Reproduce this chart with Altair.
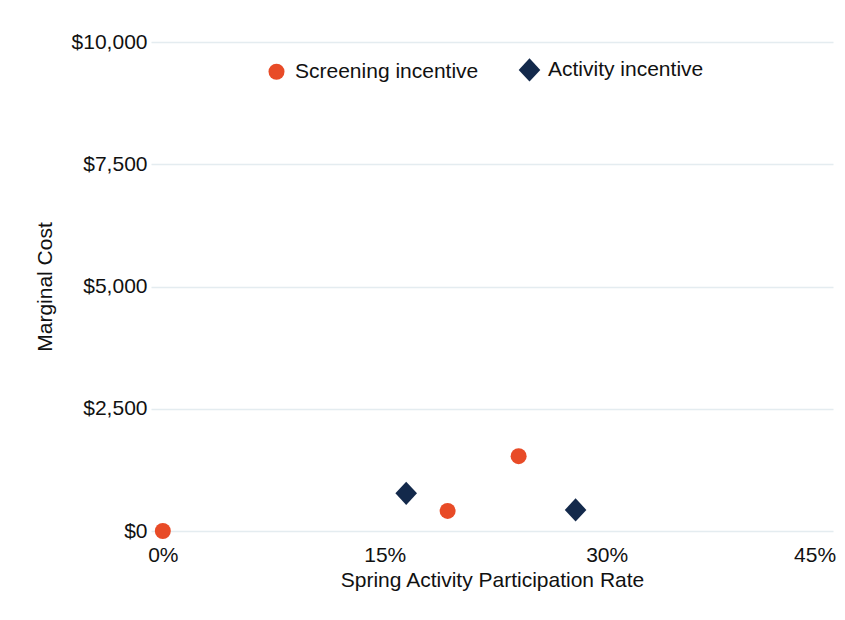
import altair as alt
import pandas as pd

series = ["Screening incentive", "Screening incentive", "Screening incentive",
          "Activity incentive", "Activity incentive"]
rate = [0.0, 0.1925, 0.2405, 0.1645, 0.279]
cost = [0, 410, 1530, 770, 430]

x_ticks = [0.0, 0.15, 0.30, 0.45]
y_ticks = [0, 2500, 5000, 7500, 10000]

df = pd.DataFrame({"series": series, "rate": rate, "cost": cost})

FONT = "Liberation Sans"
DIAMOND = "M-1.35,0L0,-1.45L1.35,0L0,1.45Z"

chart = alt.Chart(df).mark_point(filled=True, opacity=1, size=256).encode(
    x=alt.X("rate:Q",
            scale=alt.Scale(domain=[-0.008, 0.453], nice=False, zero=False),
            axis=alt.Axis(values=x_ticks, format=".0%", title="Spring Activity Participation Rate",
                          grid=False, ticks=False, domain=False,
                          labelPadding=13, titlePadding=4,
                          labelOffset={"condition": {"test": "datum.value >= 0.44", "value": -14}, "value": 0})),
    y=alt.Y("cost:Q",
            scale=alt.Scale(domain=[0, 10000], nice=False),
            axis=alt.Axis(values=y_ticks, format="$,.0f", title="Marginal Cost",
                          grid=True, gridColor="#E4ECF0", gridWidth=1.5,
                          ticks=False, domain=False, labelPadding=4,
                          titleX=-106, titleBaseline="middle")),
    color=alt.Color("series:N",
                    scale=alt.Scale(domain=["Screening incentive", "Activity incentive"],
                                    range=["#E84B27", "#13294B"]),
                    legend=alt.Legend(title=None, orient="none", direction="horizontal",
                                      legendX=115, legendY=17, symbolSize=256,
                                      labelOffset=8, columnPadding=36, labelLimit=400,
                                      symbolOpacity=1)),
    shape=alt.Shape("series:N",
                    scale=alt.Scale(domain=["Screening incentive", "Activity incentive"],
                                    range=["circle", DIAMOND])),
).properties(
    width=682, height=489,
    autosize=alt.AutoSizeParams(type="none"),
    padding={"left": 143, "top": 34, "right": 4, "bottom": 70},
).configure_view(stroke=None).configure_axis(
    labelFont=FONT, titleFont=FONT, labelFontSize=21, titleFontSize=21,
    labelColor="#111111", titleColor="#111111", titleFontWeight="normal",
).configure_legend(
    labelFont=FONT, labelFontSize=21, labelColor="#111111",
)

chart.save("out.html", embed_options={"renderer": "svg", "actions": False})
